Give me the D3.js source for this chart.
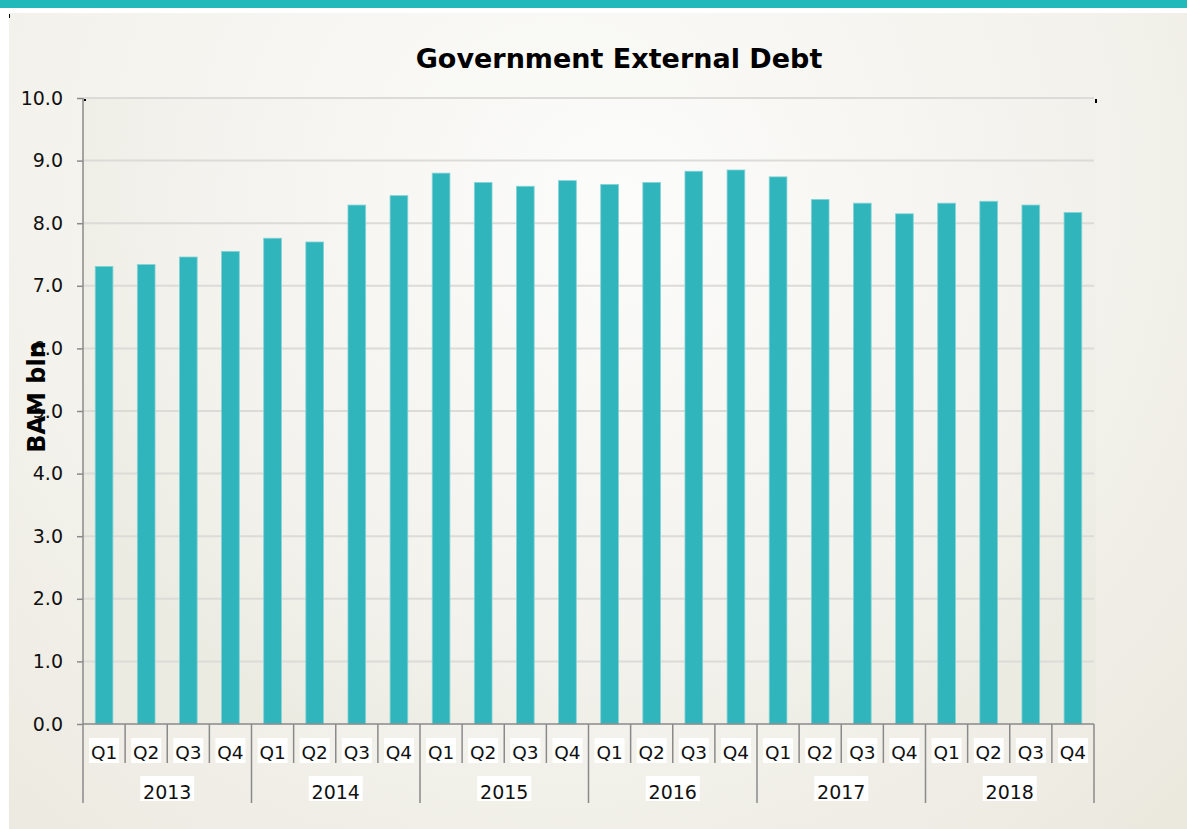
<!DOCTYPE html>
<html><head><meta charset="utf-8">
<script src="https://cdn.jsdelivr.net/npm/d3@7"></script>
<style>html,body{margin:0;padding:0;background:#fff;}svg{display:block;}</style>
</head><body>
<script>
const years = ["2013","2014","2015","2016","2017","2018"];
const quarters = ["Q1","Q2","Q3","Q4"];
const values = [7.31,7.34,7.46,7.55, 7.76,7.70,8.29,8.44, 8.80,8.65,8.59,8.68, 8.62,8.65,8.83,8.85, 8.74,8.38,8.32,8.15, 8.32,8.35,8.29,8.17];
const yTicks = [0,1,2,3,4,5,6,7,8,9,10];
const title = "Government External Debt";
const yTitle = "BAM bln";

const W = 1187, H = 829;
const m = {left:83, right:1094, top:98, bottom:724};
const font = "'DejaVu Sans', Verdana, sans-serif";

const labels = [];
years.forEach(y => quarters.forEach(q => labels.push({year:y, q:q})));
const data = labels.map((d,i)=>({...d, i, v: values[i]}));

const svg = d3.select("body").append("svg").attr("width",W).attr("height",H);
const defs = svg.append("defs");
const bg = defs.append("radialGradient").attr("id","bg").attr("gradientUnits","userSpaceOnUse")
  .attr("cx",560).attr("cy",180).attr("r",900);
bg.append("stop").attr("offset","0").attr("stop-color","#fbfbf9");
bg.append("stop").attr("offset","0.6").attr("stop-color","#f3f2ec");
bg.append("stop").attr("offset","1").attr("stop-color","#ebe8de");
const pg = defs.append("radialGradient").attr("id","pg").attr("gradientUnits","userSpaceOnUse")
  .attr("cx",620).attr("cy",200).attr("r",620);
pg.append("stop").attr("offset","0").attr("stop-color","#fcfcfb");
pg.append("stop").attr("offset","0.7").attr("stop-color","#f3f2ed");
pg.append("stop").attr("offset","1").attr("stop-color","#ecebe2");

svg.append("rect").attr("x",0).attr("y",0).attr("width",W).attr("height",H).attr("fill","#fff");
svg.append("rect").attr("x",9).attr("y",13).attr("width",W-9).attr("height",H-13).attr("fill","url(#bg)");
svg.append("rect").attr("x",0).attr("y",0).attr("width",W).attr("height",8).attr("fill","#22b9bb");
svg.append("rect").attr("x",9).attr("y",14).attr("width",1).attr("height",4).attr("fill","#000");

const x = d3.scaleBand().domain(data.map(d=>d.i)).range([m.left,m.right]).paddingInner(0.58).paddingOuter(0.29);
const y = d3.scaleLinear().domain([0,10]).range([m.bottom,m.top]);

svg.append("rect").attr("x",m.left).attr("y",m.top).attr("width",m.right-m.left+2).attr("height",m.bottom-m.top).attr("fill","url(#pg)");

// gridlines
svg.append("g").selectAll("line").data(yTicks.filter(t=>t>0)).join("line")
  .attr("x1",m.left).attr("x2",m.right).attr("y1",d=>y(d)).attr("y2",d=>y(d))
  .attr("stroke","#dcdbd7").attr("stroke-width",2);

// bars
svg.append("g").selectAll("rect").data(data).join("rect")
  .attr("x",d=>x(d.i)).attr("width",x.bandwidth())
  .attr("y",d=>y(d.v)).attr("height",d=>y(0)-y(d.v))
  .attr("fill","#30b5bc").attr("stroke","#84d3d6").attr("stroke-width",0.8);

// y axis
const yAxis = d3.axisLeft(y).tickValues(yTicks).tickFormat(d3.format(".1f")).tickSize(6).tickPadding(14);
const ga = svg.append("g").attr("transform",`translate(${m.left},0)`).call(yAxis);
ga.select(".domain").remove();
ga.selectAll(".tick line").attr("stroke","#8a8a8a").attr("stroke-width",1.5);
ga.selectAll(".tick text").attr("font-family",font).attr("font-size",19).attr("fill","#111");
svg.append("line").attr("x1",m.left).attr("x2",m.left).attr("y1",m.top).attr("y2",m.bottom).attr("stroke","#8a8a8a").attr("stroke-width",1.5);
svg.append("rect").attr("x",m.left+1).attr("y",m.top+1).attr("width",2).attr("height",2).attr("fill","#000");
svg.append("rect").attr("x",m.right+1).attr("y",m.top+1).attr("width",2).attr("height",4).attr("fill","#000");

// x axis
const step = x.step();
svg.append("line").attr("x1",m.left).attr("x2",m.right).attr("y1",m.bottom).attr("y2",m.bottom).attr("stroke","#8a8a8a").attr("stroke-width",1.5);
const bounds = d3.range(data.length+1);
svg.append("g").selectAll("line").data(bounds).join("line")
  .attr("x1",i=>m.left+i*step).attr("x2",i=>m.left+i*step)
  .attr("y1",m.bottom).attr("y2",i=> i%4===0 ? 803 : 763)
  .attr("stroke","#8a8a8a").attr("stroke-width",1.5);

// quarter labels
const ql = svg.append("g").selectAll("g").data(data).join("g")
  .attr("transform",d=>`translate(${x(d.i)+x.bandwidth()/2},753)`);
ql.append("rect").attr("x",-15).attr("y",-15).attr("width",30).attr("height",25).attr("fill","#fff");
ql.append("text").text(d=>d.q).attr("text-anchor","middle").attr("dy","0.35em")
  .attr("font-family",font).attr("font-size",18.5).attr("fill","#111");

// year labels
const yl = svg.append("g").selectAll("g").data(years).join("g")
  .attr("transform",(d,k)=>`translate(${m.left + (k*4+2)*step},792)`);
yl.append("rect").attr("x",-27).attr("y",-16).attr("width",54).attr("height",25).attr("fill","#fff");
yl.append("text").text(d=>d).attr("text-anchor","middle").attr("dy","0.35em")
  .attr("font-family",font).attr("font-size",19).attr("fill","#111");

// title
svg.append("text").text(title).attr("x",619).attr("y",68).attr("text-anchor","middle")
  .attr("font-family",font).attr("font-weight","bold").attr("font-size",27).attr("fill","#000");

// y title
svg.append("text").text(yTitle).attr("transform","translate(45,397) rotate(-90)").attr("text-anchor","middle")
  .attr("font-family",font).attr("font-weight","bold").attr("font-size",24).attr("fill","#000");
</script>
</body></html>
